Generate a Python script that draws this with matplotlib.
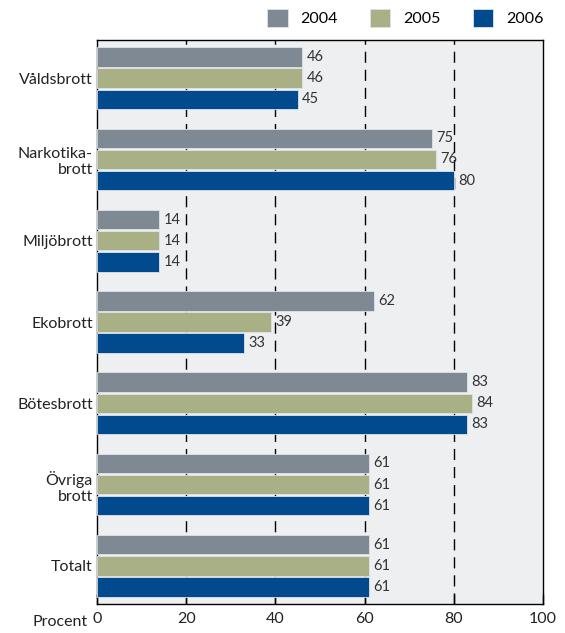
import matplotlib.pyplot as plt
import numpy as np
from matplotlib.patches import Patch

plt.rcParams['font.family'] = ['Lato', 'DejaVu Sans']

categories = ["Våldsbrott", "Narkotika-\nbrott", "Miljöbrott", "Ekobrott",
              "Bötesbrott", "Övriga\nbrott", "Totalt"]
years = ["2004", "2005", "2006"]
v2004 = [46, 75, 14, 62, 83, 61, 61]
v2005 = [46, 76, 14, 39, 84, 61, 61]
v2006 = [45, 80, 14, 33, 83, 61, 61]
colors = ["#7f8994", "#a9b086", "#004a8d"]

fig = plt.figure(figsize=(5.65, 6.33), dpi=100)
ax = fig.add_axes([97 / 565, 1 - 604 / 633, 446 / 565, 564 / 633])
ax.set_facecolor("#eeeff1")

y = np.arange(len(categories))
step = 0.26
h = 0.24
for i, (vals, c) in enumerate(zip([v2004, v2005, v2006], colors)):
    pos = y + (i - 1) * step
    ax.barh(pos, vals, height=h, color=c, edgecolor="#dde3ea", linewidth=0.6, zorder=3)
    for p, v in zip(pos, vals):
        ax.text(v + 1.0, p, str(v), va="center", ha="left", fontsize=10.5,
                color="#333333", zorder=4)

ax.set_xlim(0, 100)
ax.set_ylim(len(categories) - 0.53, -0.47)
ax.set_yticks(y)
ax.set_yticklabels(categories, fontsize=11.5, ha="right", multialignment="right",
                   color="#222222")
ax.tick_params(axis="y", length=0, pad=3)
ax.set_xticks([0, 20, 40, 60, 80, 100])
ax.set_xticklabels(["0", "20", "40", "60", "80", "100"], fontsize=11.5, color="#222222")
ax.tick_params(axis="x", direction="in", length=7, width=1, pad=6)
for xv in [20, 40, 60, 80]:
    ax.axvline(xv, color="black", linestyle=(0, (8, 5)), linewidth=1, zorder=1)
for s in ax.spines.values():
    s.set_linewidth(1)

fig.text(88 / 565, 1 - 622 / 633, "Procent", ha="right", va="center",
         fontsize=11.5, color="#222222")

handles = [Patch(facecolor=c, edgecolor="#dde3ea", linewidth=0.6) for c in colors]
fig.legend(handles, years, loc="center right", bbox_to_anchor=(558 / 565, 1 - 18 / 633),
           ncol=3, frameon=False, fontsize=11.5, handlelength=1.3, handleheight=1.3,
           columnspacing=2.0, handletextpad=0.8)

fig.savefig("out.png", dpi=100)
